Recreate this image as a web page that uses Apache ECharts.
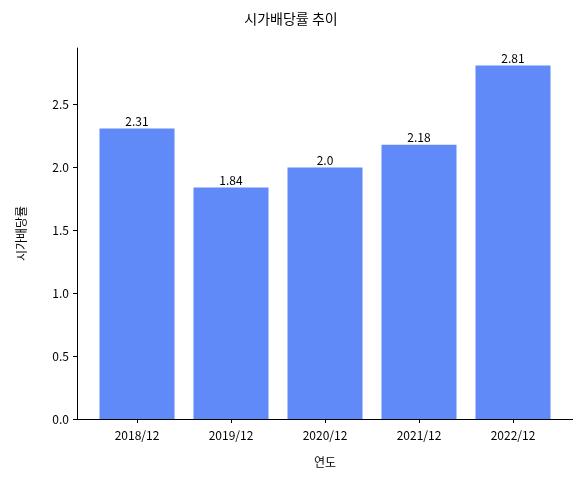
<!DOCTYPE html>
<html><head><meta charset="utf-8">
<script src="https://cdn.jsdelivr.net/npm/echarts@6/dist/echarts.min.js"></script>
<style>html,body{margin:0;padding:0;background:#fff}#c{width:582px;height:479px}</style>
</head><body><div id="c"></div>
<script>
var years = ['2018/12', '2019/12', '2020/12', '2021/12', '2022/12'];
var yields = [2.31, 1.84, 2.0, 2.18, 2.81];
var yLabels = ['0.0', '0.5', '1.0', '1.5', '2.0', '2.5'];

var font = 'Noto Sans CJK KR';
var chart = echarts.init(document.getElementById('c'));
chart.setOption({
    animation: false,
    textStyle: {fontFamily: font},
    title: {text: '시가배당률 추이', left: 'center', top: 7,
        textStyle: {fontFamily: font, fontSize: 14, fontWeight: 'normal', color: '#000'}},
    grid: {left: 90, right: 22, top: 48, bottom: 60},
    graphic: [{type: 'line', shape: {x1: 77, y1: 419.5, x2: 573, y2: 419.5},
        style: {stroke: '#000', lineWidth: 1}}],
    xAxis: {
        type: 'category', data: years,
        name: '연도', nameLocation: 'middle', nameGap: 37,
        nameTextStyle: {fontSize: 12, color: '#000'},
        axisLine: {show: false},
        axisTick: {show: true, alignWithLabel: true, length: 4, lineStyle: {color: '#000'}},
        axisLabel: {color: '#000', fontSize: 12, margin: 10}
    },
    yAxis: {
        type: 'value', min: 0, max: 2.95, interval: 0.5, offset: 13,
        name: '시가배당률', nameLocation: 'middle', nameGap: 50,
        nameTextStyle: {fontSize: 12, color: '#000'},
        axisLine: {show: true, lineStyle: {color: '#000'}},
        axisTick: {show: true, length: 4, lineStyle: {color: '#000'}},
        splitLine: {show: false},
        axisLabel: {color: '#000', fontSize: 12, showMaxLabel: false,
            formatter: function (v) { return yLabels[Math.round(v / 0.5)] || ''; }}
    },
    series: [{
        type: 'bar', data: yields, barWidth: 75,
        itemStyle: {color: '#5f8af8'},
        label: {show: true, position: 'top', distance: 1, color: '#000', fontSize: 12,
            formatter: function (p) { return String(p.value === 2 ? '2.0' : p.value); }}
    }]
});
</script></body></html>
